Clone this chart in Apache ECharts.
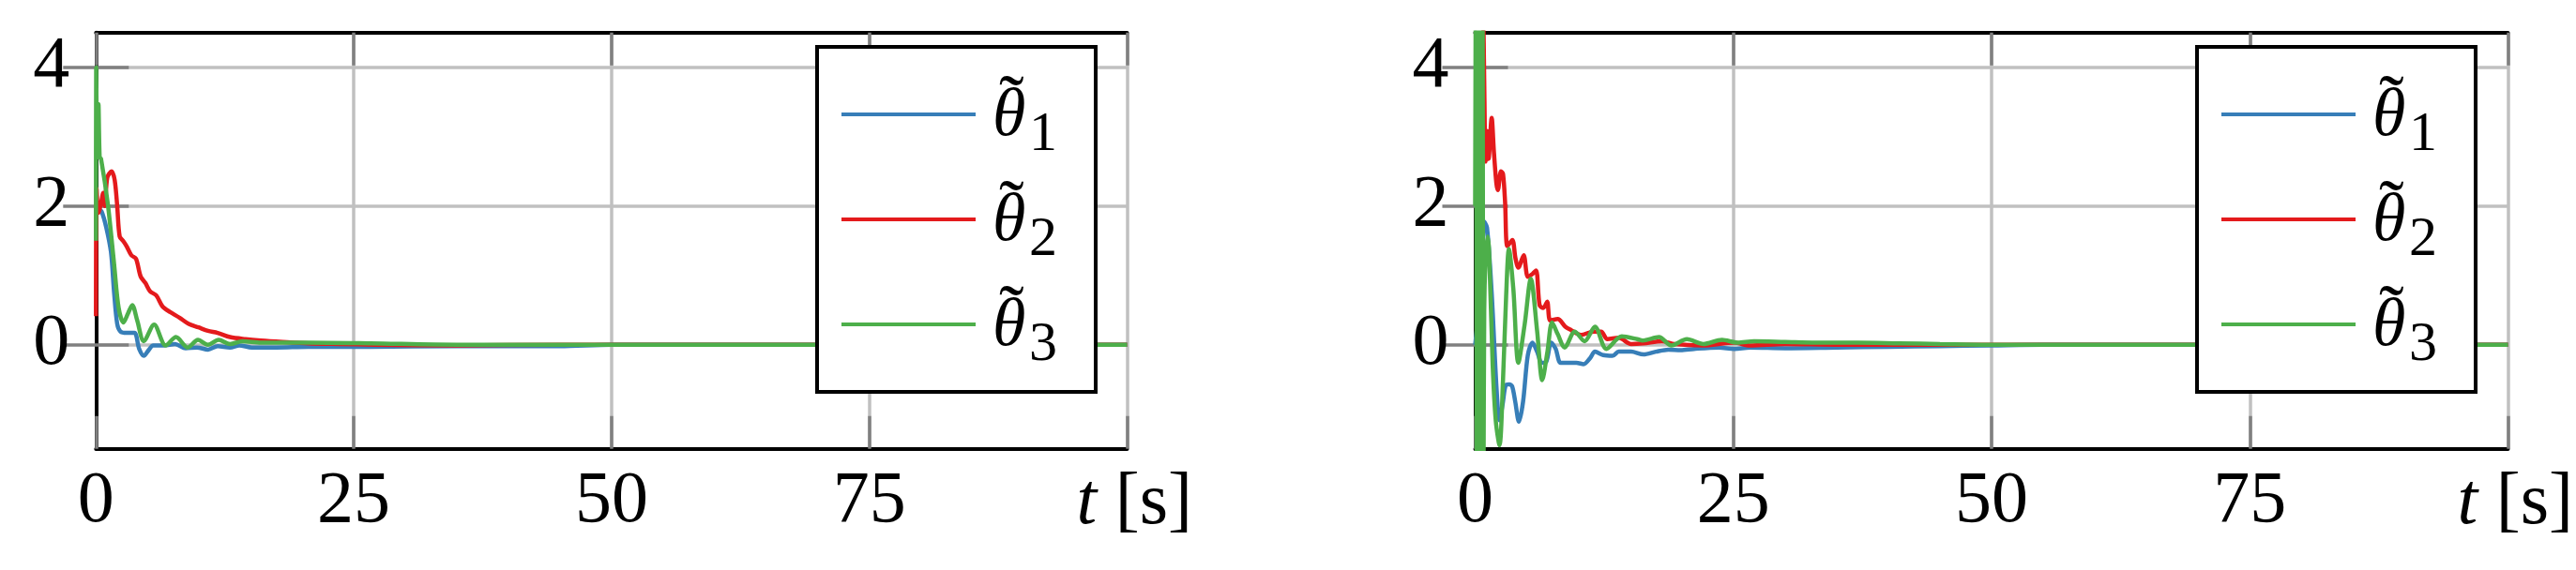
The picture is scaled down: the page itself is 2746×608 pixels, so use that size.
<!DOCTYPE html>
<html>
<head>
<meta charset="utf-8">
<title>theta tilde</title>
<script src="https://cdn.jsdelivr.net/npm/echarts@6/dist/echarts.min.js"></script>
<style>
  html, body { margin: 0; padding: 0; background: #fff; }
  #chart { width: 2746px; height: 608px; }
</style>
</head>
<body>
<div id="chart"></div>
<script>
  // ticks
  var xTicks = [0, 25, 50, 75, 100]
  var yTicks = [0, 2, 4]

  // left panel
  var tBlueA = [0, 0.3, 0.55, 1.0, 1.46, 1.76, 2.06, 2.37, 2.97, 3.73, 4.19, 4.64, 5.1, 5.55, 6.6, 7.67, 8.7, 9.8, 10.86, 11.8, 13, 13.9, 15.1, 17.5, 20.6, 26.6, 35, 45, 50, 60, 100]
  var blueA = [2.0, 1.95, 1.92, 1.69, 1.33, 0.75, 0.30, 0.19, 0.17, 0.17, -0.06, -0.16, -0.08, -0.01, -0.01, 0.01, -0.05, -0.04, -0.07, -0.02, -0.04, -0.01, -0.04, -0.04, -0.03, -0.03, -0.02, -0.02, 0, 0, 0]
  var tRedA = [0, 0.06, 0.24, 0.5, 0.7, 0.85, 1.1, 1.52, 1.82, 2.06, 2.3, 2.67, 2.97, 3.43, 3.88, 4.34, 4.79, 5.25, 5.85, 6.46, 7.2, 8.1, 9.0, 9.95, 10.86, 11.8, 13, 14.5, 16, 18.1, 20.6, 23.6, 27, 35, 45, 100]
  var redA = [0.41, 2.25, 1.9, 2.05, 2.19, 2.0, 2.41, 2.5, 2.37, 2.0, 1.56, 1.49, 1.42, 1.29, 1.24, 0.98, 0.89, 0.77, 0.71, 0.55, 0.47, 0.39, 0.30, 0.25, 0.20, 0.17, 0.11, 0.08, 0.06, 0.04, 0.02, 0.01, 0.0, -0.01, 0, 0]
  var tGreenA = [0, 0.02, 0.12, 0.24, 0.36, 0.49, 1.15, 1.76, 2.2, 2.67, 3.1, 3.52, 4.0, 4.64, 5.64, 6.76, 7.76, 8.89, 9.89, 10.86, 11.9, 13, 14.2, 16, 18.1, 20.6, 26.6, 35, 100]
  var greenA = [1.5, 4.0, 2.7, 3.47, 2.7, 2.68, 2.03, 1.16, 0.53, 0.32, 0.45, 0.57, 0.35, 0.05, 0.29, -0.01, 0.11, -0.04, 0.07, 0, 0.07, 0.01, 0.05, 0.03, 0.03, 0.03, 0.02, 0.0, 0]

  // right panel
  var tBlueB = [0, 0.4, 0.7, 0.85, 1.15, 1.6, 2.06, 2.36, 2.67, 2.97, 3.3, 3.58, 3.88, 4.24, 4.64, 5.1, 5.55, 6.0, 6.45, 6.9, 7.36, 7.8, 8.27, 9.0, 9.8, 10.5, 11.15, 11.6, 12.4, 13.3, 13.9, 15.1, 16.3, 17.5, 18.7, 19.9, 21.2, 23.6, 25.1, 26.6, 30, 35, 40, 45, 50, 55, 100]
  var blueB = [0, 0.5, 0.75, 1.78, 1.69, 0.75, -0.6, -1.09, -0.85, -0.58, -0.57, -0.6, -0.82, -1.11, -0.82, -0.15, 0.03, -0.10, -0.26, -0.24, 0.03, -0.06, -0.26, -0.26, -0.26, -0.28, -0.19, -0.10, -0.15, -0.16, -0.10, -0.10, -0.14, -0.10, -0.07, -0.08, -0.06, -0.04, -0.06, -0.04, -0.05, -0.04, -0.03, -0.02, -0.01, 0, 0]
  var tRedB = [0, 0.4, 0.79, 0.85, 0.9, 1.0, 1.15, 1.3, 1.6, 1.82, 2.06, 2.2, 2.5, 2.7, 2.9, 3.12, 3.6, 3.9, 4.18, 4.7, 5.1, 5.55, 5.9, 6.24, 6.6, 6.97, 7.27, 8.0, 8.73, 9.3, 10.24, 11.45, 12.2, 12.8, 13.9, 15.1, 16.3, 18.1, 19.3, 22, 25.1, 26.6, 30, 35, 40, 50, 100]
  var redB = [6, 5.5, 4.6, 4.12, 3.54, 2.64, 3.08, 2.68, 3.27, 2.77, 2.32, 2.23, 2.5, 2.46, 2.05, 1.42, 1.51, 1.25, 1.11, 1.29, 0.98, 1.02, 1.07, 0.57, 0.53, 0.62, 0.35, 0.37, 0.26, 0.21, 0.14, 0.19, 0.19, 0.08, 0.10, 0.01, 0.02, 0.05, 0.01, -0.01, 0.03, -0.01, 0.01, 0.0, 0.0, 0, 0]
  var tGreenB = [0, 0.08, 0.16, 0.24, 0.32, 0.40, 0.48, 0.56, 0.64, 0.72, 0.80, 0.88, 1.0, 1.2, 1.35, 1.7, 2.0, 2.36, 2.7, 3.0, 3.27, 3.7, 4.18, 4.8, 5.39, 6.0, 6.5, 7.0, 7.45, 8.0, 8.67, 9.64, 10.6, 11.6, 12.7, 14.2, 15.7, 16.2, 17.8, 19, 20.5, 22.1, 23.9, 25.4, 27, 30, 33, 37, 41, 45, 50, 100]
  var greenB = [2.0, 6, -3, 6, -3, 6, -3, 5.5, -3, 4.8, -2.5, 0.5, 1.2, 1.56, 1.35, -0.3, -1.1, -1.45, -0.5, 0.7, 1.38, 0.8, -0.26, 0.3, 0.95, 0.2, -0.51, -0.1, 0.32, 0.15, -0.04, 0.19, 0.05, 0.26, -0.06, 0.12, 0.08, 0.06, 0.11, -0.01, 0.08, 0.01, 0.07, 0.03, 0.05, 0.04, 0.03, 0.03, 0.02, 0.01, 0, 0]

  var names = ['th1', 'th2', 'th3']
  var subs = ['1', '2', '3']
  var colors = ['#377eb8', '#e41a1c', '#4daf4a']
  var serif = 'Liberation Serif'
  var gridColor = '#c0c0c0'
  var tickColor = '#808080'

  function pair (t, y) {
    return t.map(function (v, i) { return [v, y[i]] })
  }

  function xAxes (gridIndex) {
    return [
      {
        gridIndex: gridIndex,
        type: 'value',
        position: 'bottom',
        min: 0,
        max: 100,
        interval: 25,
        axisLine: { show: true, onZero: false, lineStyle: { color: '#000', width: 4 } },
        axisTick: { show: true, inside: true, length: 35, lineStyle: { color: tickColor, width: 3.5 } },
        axisLabel: {
          margin: 18,
          fontFamily: serif,
          fontSize: 78,
          color: '#000',
          formatter: function (v) { return v === 100 ? '' : v }
        },
        splitLine: { show: true, lineStyle: { color: gridColor, width: 3.5 } },
        name: '{i|t} [s]',
        nameLocation: 'end',
        nameGap: -54,
        nameMoveOverlap: false,
        nameTextStyle: {
          fontFamily: serif,
          fontSize: 78,
          color: '#000',
          align: 'left',
          verticalAlign: 'top',
          padding: [20, 0, 0, 0],
          rich: {
            i: { fontFamily: serif, fontSize: 78, fontStyle: 'italic', color: '#000' }
          }
        }
      },
      {
        gridIndex: gridIndex,
        type: 'value',
        position: 'top',
        min: 0,
        max: 100,
        interval: 25,
        axisLine: { show: true, onZero: false, lineStyle: { color: '#000', width: 4 } },
        axisTick: { show: true, inside: true, length: 35, lineStyle: { color: tickColor, width: 3.5 } },
        axisLabel: { show: false },
        splitLine: { show: false }
      }
    ]
  }

  function yAxes (gridIndex) {
    return [
      {
        gridIndex: gridIndex,
        type: 'value',
        position: 'left',
        min: -1.5,
        max: 4.5,
        axisLine: { show: true, onZero: false, lineStyle: { color: '#000', width: 4 } },
        axisTick: { show: true, inside: true, length: 35, customValues: yTicks, lineStyle: { color: tickColor, width: 3.5 } },
        axisLabel: { margin: 28, fontFamily: serif, fontSize: 78, color: '#000', customValues: yTicks },
        splitLine: { show: true, lineStyle: { color: gridColor, width: 3.5 } }
      },
      {
        gridIndex: gridIndex,
        type: 'value',
        position: 'right',
        min: -1.5,
        max: 4.5,
        axisLine: { show: false },
        axisTick: { show: true, inside: true, length: 35, customValues: yTicks, lineStyle: { color: tickColor, width: 3.5 } },
        axisLabel: { show: false },
        splitLine: { show: false }
      }
    ]
  }

  // legend box and line samples; the labels are drawn as graphic text
  function legendFor (left) {
    return {
      data: names,
      orient: 'vertical',
      left: left,
      top: 50,
      padding: [70, 123, 70, 26],
      itemGap: 108,
      itemWidth: 143,
      itemHeight: 4,
      icon: 'rect',
      selectedMode: false,
      backgroundColor: '#fff',
      borderColor: '#000',
      borderWidth: 4,
      borderRadius: 0,
      formatter: function () { return '' },
      textStyle: { fontSize: 1, lineHeight: 1 }
    }
  }

  function legendLabels (dx) {
    var els = []
    subs.forEach(function (s, i) {
      var yc = 121.8 + 112 * i
      els.push({
        type: 'text', z: 100, x: 1065 + dx, y: yc - 8,
        style: { text: '\u02dc', fontFamily: serif, fontSize: 80, fill: '#000', align: 'left', verticalAlign: 'middle' }
      })
      els.push({
        type: 'text', z: 100, x: 1058 + dx, y: yc + 3,
        style: { text: 'θ', fontFamily: serif, fontStyle: 'italic', fontSize: 72, fill: '#000', align: 'left', verticalAlign: 'middle' }
      })
      els.push({
        type: 'text', z: 100, x: 1097 + dx, y: yc + 22.5,
        style: { text: s, fontFamily: serif, fontSize: 60, fill: '#000', align: 'left', verticalAlign: 'middle' }
      })
    })
    return els
  }

  function lineSeries (i, xIdx, t, y) {
    return {
      name: names[i],
      type: 'line',
      xAxisIndex: xIdx,
      yAxisIndex: xIdx,
      data: pair(t, y),
      showSymbol: false,
      smooth: 0.3,
      color: colors[i],
      lineStyle: { color: colors[i], width: 4.5 },
      clip: true
    }
  }

  var chart = echarts.init(document.getElementById('chart'))
  var option = {
    animation: false,
    backgroundColor: '#fff',
    grid: [
      { left: 102.3, right: 1544.5, top: 34.7, bottom: 129.3 },
      { left: 1572.5, right: 72.5, top: 34.7, bottom: 129.3 }
    ],
    xAxis: xAxes(0).concat(xAxes(1)),
    yAxis: yAxes(0).concat(yAxes(1)),
    legend: [legendFor(871), legendFor(2342)],
    graphic: legendLabels(0).concat(legendLabels(1471)),
    series: [
      lineSeries(0, 0, tBlueA, blueA),
      lineSeries(1, 0, tRedA, redA),
      lineSeries(2, 0, tGreenA, greenA),
      lineSeries(0, 2, tBlueB, blueB),
      lineSeries(1, 2, tRedB, redB),
      lineSeries(2, 2, tGreenB, greenB)
    ]
  }
  chart.setOption(option)
</script>
</body>
</html>
